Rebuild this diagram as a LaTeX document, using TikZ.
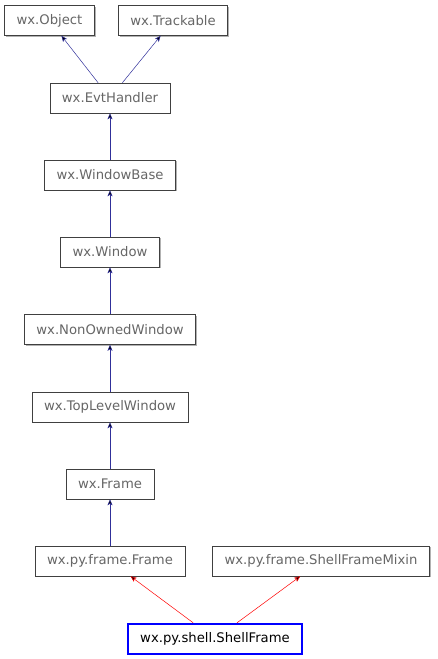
\documentclass[tikz,border=0pt]{standalone}
\usepackage{fontspec}
\setmainfont{DejaVu Sans}
\usepackage{tikz}
\usetikzlibrary{arrows.meta,shadows}
\definecolor{classtext}{HTML}{666666}
\definecolor{inheritblue}{HTML}{30309A}

\tikzset{
  cls/.style={draw=black!75, line width=0.6pt, fill=white, text=classtext,
    font=\fontsize{13.2}{15}\selectfont, inner xsep=12pt, minimum height=30pt,
    drop shadow={shadow xshift=1.4pt, shadow yshift=-1.4pt, fill=black!30, opacity=1}},
  focus/.style={cls, draw=blue, line width=2.4pt, text=black, drop shadow={opacity=0}},
  inherit/.style={-{Stealth[length=6pt, width=5pt, inset=1.5pt]}, line width=0.5pt, draw=inheritblue},
  inheritmix/.style={inherit, draw=red}
}

\begin{document}
\begin{tikzpicture}[x=1pt, y=-1pt]
  \useasboundingbox (0,0) rectangle (437,659);
  \node[cls] (obj) at (49.5,20.5) {wx.Object};
  \node[cls] (track) at (173,20.5) {wx.Trackable};
  \node[cls] (evt) at (110,98) {wx.EvtHandler};
  \node[cls] (winbase) at (110,175) {wx.WindowBase};
  \node[cls] (win) at (110,252) {wx.Window};
  \node[cls] (nonowned) at (110,329.5) {wx.NonOwnedWindow};
  \node[cls] (toplevel) at (110,407) {wx.TopLevelWindow};
  \node[cls] (frame) at (110,484) {wx.Frame};
  \node[cls] (pyframe) at (110,561) {wx.py.frame.Frame};
  \node[cls] (mixin) at (321,561) {wx.py.frame.ShellFrameMixin};
  \node[focus] (shell) at (215,639) {wx.py.shell.ShellFrame};

  \path[inherit]
  (evt) edge (obj)
  (evt) edge (track)
  (winbase) edge (evt)
  (win) edge (winbase)
  (nonowned) edge (win)
  (toplevel) edge (nonowned)
  (frame) edge (toplevel)
  (pyframe) edge (frame)
  ;
  \path[inheritmix]
  (shell) edge (pyframe)
  (shell) edge (mixin)
  ;
\end{tikzpicture}
\end{document}
